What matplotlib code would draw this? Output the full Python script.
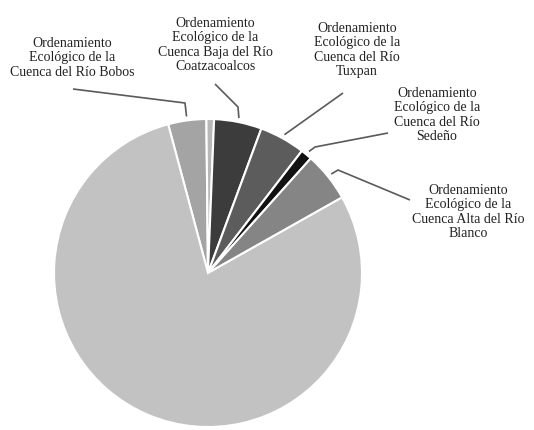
import matplotlib
matplotlib.use("Agg")
import matplotlib.pyplot as plt
import numpy as np

# slice shares (%), clockwise from the top-left
labels = [
    "Ordenamiento\nEcológico de la\nCuenca del Río Bobos",
    "",
    "Ordenamiento\nEcológico de la\nCuenca Baja del Río\nCoatzacoalcos",
    "Ordenamiento\nEcológico de la\nCuenca del Río\nTuxpan",
    "Ordenamiento\nEcológico de la\nCuenca del Río\nSedeño",
    "Ordenamiento\nEcológico de la\nCuenca Alta del Río\nBlanco",
    "",
]
shares = [4.0, 0.8, 5.0, 4.8, 1.2, 5.2, 79.0]
colors = ["#a4a4a4", "#b8b8b8", "#3c3c3c", "#5c5c5c", "#121212", "#858585", "#c2c2c2"]

W, H = 534, 430
CX, CY, R = 208, 273, 154   # pie centre / radius in pixels (y from top)

# label text centres and leader-line elbows, in pixels (y from top)
text_pos = {0: (72, 58), 2: (215, 45), 3: (357, 50), 4: (437, 115), 5: (468, 212)}
elbows = {
    0: [(73, 89), (185, 103)],
    2: [(215, 84), (238, 107)],
    3: [(343, 93)],
    4: [(388, 133), (315, 147)],
    5: [(410, 200), (338, 170)],
}

fig = plt.figure(figsize=(W / 100, H / 100), dpi=100)
ax = fig.add_axes([0, 0, 1, 1])

wedges, _ = ax.pie(
    shares,
    colors=colors,
    startangle=105,
    counterclock=False,
    center=(CX, H - CY),
    radius=R,
    wedgeprops=dict(edgecolor="white", linewidth=1.5),
)

ax.set_xlim(0, W)
ax.set_ylim(0, H)
ax.set_aspect("equal")
ax.axis("off")

for i, w in enumerate(wedges):
    if not labels[i]:
        continue
    mid = np.deg2rad((w.theta1 + w.theta2) / 2)
    end = (CX + (R + 4) * np.cos(mid), H - CY + (R + 4) * np.sin(mid))
    pts = [(x, H - y) for x, y in elbows[i]] + [end]
    xs, ys = zip(*pts)
    ax.plot(xs, ys, color="#5a5a5a", linewidth=1.2, solid_capstyle="butt")
    tx, ty = text_pos[i]
    ax.text(tx, H - ty, labels[i], ha="center", va="center",
            fontsize=10, family="Liberation Serif", color="#222222",
            linespacing=1.15)

fig.savefig("out.png", dpi=100)
